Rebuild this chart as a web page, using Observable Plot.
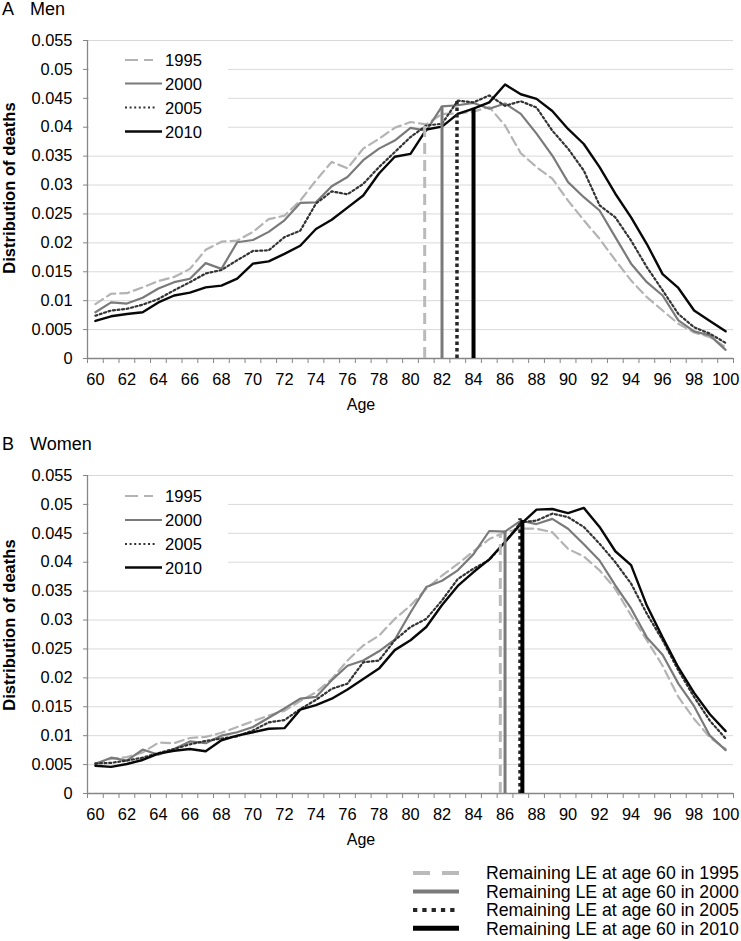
<!DOCTYPE html>
<html><head><meta charset="utf-8">
<script src="https://cdn.jsdelivr.net/npm/d3@7"></script>
<script src="https://cdn.jsdelivr.net/npm/@observablehq/plot@0.6"></script>
<style>
body{margin:0;background:#fff;font-family:"Liberation Sans",Arial,sans-serif;}
#root{position:relative;width:741px;height:941px;overflow:hidden;background:#fff;}
#root > svg, #root > figure{position:absolute;margin:0;}
</style></head>
<body><div id="root"></div>
<script>
const ages = [60,61,62,63,64,65,66,67,68,69,70,71,72,73,74,75,76,77,78,79,80,81,82,83,84,85,86,87,88,89,90,91,92,93,94,95,96,97,98,99,100];
const years = [1995, 2000, 2005, 2010];
const yTicks = [0,0.005,0.01,0.015,0.02,0.025,0.03,0.035,0.04,0.045,0.05,0.055];
const xLabels = [60,62,64,66,68,70,72,74,76,78,80,82,84,86,88,90,92,94,96,98,100];

// Men
const men1995 = [0.0094,0.0112,0.0113,0.0123,0.0134,0.0141,0.0155,0.0188,0.0202,0.0204,0.0219,0.0241,0.0247,0.0273,0.0308,0.0340,0.0329,0.0363,0.0380,0.0399,0.0409,0.0405,0.0423,0.0424,0.0427,0.0435,0.0403,0.0355,0.0331,0.0311,0.0273,0.0239,0.0207,0.0170,0.0135,0.0106,0.0083,0.0060,0.0045,0.0037,0.0020];
const men2000 = [0.0080,0.0097,0.0095,0.0105,0.0121,0.0132,0.0138,0.0165,0.0155,0.0201,0.0205,0.0219,0.0239,0.0269,0.0270,0.0298,0.0314,0.0343,0.0363,0.0377,0.0399,0.0394,0.0436,0.0438,0.0442,0.0432,0.0441,0.0423,0.0389,0.0351,0.0305,0.0279,0.0256,0.0210,0.0164,0.0132,0.0109,0.0066,0.0047,0.0040,0.0015];
const men2005 = [0.0074,0.0083,0.0086,0.0093,0.0103,0.0118,0.0132,0.0147,0.0153,0.0170,0.0186,0.0187,0.0210,0.0221,0.0268,0.0289,0.0284,0.0302,0.0331,0.0357,0.0383,0.0403,0.0406,0.0446,0.0443,0.0455,0.0437,0.0445,0.0434,0.0394,0.0363,0.0325,0.0265,0.0244,0.0204,0.0158,0.0118,0.0077,0.0054,0.0043,0.0027];
const men2010 = [0.0065,0.0073,0.0077,0.0080,0.0097,0.0109,0.0114,0.0123,0.0126,0.0138,0.0164,0.0168,0.0181,0.0195,0.0224,0.0240,0.0261,0.0282,0.0320,0.0349,0.0354,0.0396,0.0401,0.0423,0.0432,0.0443,0.0474,0.0457,0.0449,0.0428,0.0397,0.0371,0.0331,0.0285,0.0244,0.0198,0.0146,0.0122,0.0083,0.0065,0.0047];
const menLE = [80.9, 82, 82.95, 84];
const menLEtop = [0.0410, 0.0436, 0.0447, 0.0433];

// Women
const women1995 = [0.0052,0.0060,0.0063,0.0071,0.0088,0.0087,0.0096,0.0098,0.0105,0.0115,0.0125,0.0135,0.0143,0.0160,0.0175,0.0198,0.0230,0.0256,0.0273,0.0302,0.0325,0.0354,0.0377,0.0397,0.0419,0.0440,0.0452,0.0458,0.0458,0.0452,0.0423,0.0410,0.0386,0.0354,0.0308,0.0265,0.0221,0.0167,0.0129,0.0097,0.0077];
const women2000 = [0.0051,0.0062,0.0057,0.0076,0.0067,0.0077,0.0090,0.0087,0.0100,0.0106,0.0115,0.0131,0.0147,0.0164,0.0167,0.0196,0.0221,0.0230,0.0246,0.0266,0.0313,0.0357,0.0368,0.0386,0.0414,0.0454,0.0453,0.0472,0.0466,0.0475,0.0458,0.0431,0.0403,0.0360,0.0320,0.0270,0.0240,0.0190,0.0151,0.0100,0.0075];
const women2005 = [0.0052,0.0053,0.0057,0.0062,0.0070,0.0077,0.0085,0.0091,0.0095,0.0099,0.0109,0.0123,0.0127,0.0146,0.0162,0.0181,0.0190,0.0227,0.0230,0.0265,0.0288,0.0302,0.0334,0.0371,0.0389,0.0404,0.0435,0.0469,0.0472,0.0484,0.0478,0.0461,0.0432,0.0400,0.0363,0.0311,0.0265,0.0213,0.0167,0.0126,0.0095];
const women2010 = [0.0048,0.0046,0.0051,0.0058,0.0069,0.0074,0.0077,0.0073,0.0092,0.0100,0.0106,0.0112,0.0113,0.0145,0.0153,0.0164,0.0180,0.0198,0.0216,0.0248,0.0265,0.0288,0.0326,0.0359,0.0383,0.0405,0.0435,0.0466,0.0491,0.0492,0.0485,0.0494,0.0461,0.0419,0.0395,0.0325,0.0270,0.0218,0.0174,0.0137,0.0108];
const womenLE = [85.7, 86, 86.95, 87.1];
const womenLEtop = [0.0449, 0.0454, 0.0475, 0.0472];

const legendLabels = ["1995","2000","2005","2010"];
const bottomLegendLabels = ["Remaining LE at age 60 in 1995","Remaining LE at age 60 in 2000","Remaining LE at age 60 in 2005","Remaining LE at age 60 in 2010"];

const curveStyle = {
  1995: {stroke:"#b3b3b3", strokeWidth:2.2, strokeDasharray:"9,5"},
  2000: {stroke:"#7a7a7a", strokeWidth:2.2},
  2005: {stroke:"#333333", strokeWidth:2.2, strokeDasharray:"2,2.6"},
  2010: {stroke:"#080808", strokeWidth:2.4}
};
const ruleStyle = {
  1995: {stroke:"#bababa", strokeWidth:3, strokeDasharray:"11,6"},
  2000: {stroke:"#7a7a7a", strokeWidth:3},
  2005: {stroke:"#262626", strokeWidth:3.5, strokeDasharray:"3.5,3"},
  2010: {stroke:"#000000", strokeWidth:4}
};

const FONT = "'Liberation Sans', Arial, sans-serif";
const root = document.getElementById("root");

function panel(seriesArrays, le, leTop, top, height, marginBottom) {
  const rows = [];
  seriesArrays.forEach((arr, k) => arr.forEach((v, i) => rows.push({age: ages[i], value: v, year: years[k]})));
  const leRows = le.map((a, k) => ({age: a, top: leTop[k], year: years[k]}));
  const boundaries = ages.map(a => a - 0.5).concat([ages[ages.length - 1] + 0.5]);
  const marks = [
    Plot.gridY(yTicks, {stroke: "#d9d9d9", strokeOpacity: 1, strokeWidth: 1}),
    Plot.axisY(yTicks, {tickSize: 4, tickPadding: 11, stroke: "#868686", fill: "#000", label: null,
      tickFormat: v => v === 0 ? "0" : String(+v.toFixed(3))}),
    Plot.axisX(boundaries, {tickSize: 5, stroke: "#868686", label: null, tickFormat: () => ""}),
    Plot.axisX(xLabels, {tickSize: 0, tickPadding: 15, fill: "#000", label: null}),
    Plot.ruleX([boundaries[0]], {stroke: "#868686", strokeWidth: 1.3}),
    Plot.ruleY([0], {stroke: "#868686", strokeWidth: 1.3})
  ];
  years.forEach(y => marks.push(Plot.line(rows.filter(r => r.year === y), {x: "age", y: "value", ...curveStyle[y]})));
  years.forEach(y => marks.push(Plot.ruleX(leRows.filter(r => r.year === y), {x: "age", y1: 0, y2: "top", ...ruleStyle[y]})));
  const svg = Plot.plot({
    width: 741, height, marginTop: 20, marginLeft: 87, marginRight: 8, marginBottom,
    x: {domain: [boundaries[0], boundaries[boundaries.length - 1]]},
    y: {domain: [0, 0.055]},
    style: {fontFamily: FONT, fontSize: "16.4px", color: "#000", background: "transparent"},
    marks
  });
  svg.style.top = top + "px";
  svg.style.left = "0px";
  root.appendChild(svg);
}

panel([men1995, men2000, men2005, men2010], menLE, menLEtop, 20, 400, 62);
panel([women1995, women2000, women2005, women2010], womenLE, womenLEtop, 455, 405, 67);

// Overlay: titles, axis titles, legends
const ov = d3.create("svg").attr("width", 741).attr("height", 941)
  .style("top", "0px").style("left", "0px").style("pointer-events", "none")
  .style("font-family", FONT);

function txt(x, y, s, opts = {}) {
  const t = ov.append("text").attr("x", x).attr("y", y).text(s)
    .attr("font-size", opts.size || 16).attr("fill", "#000");
  if (opts.anchor) t.attr("text-anchor", opts.anchor);
  if (opts.weight) t.attr("font-weight", opts.weight);
  if (opts.rotate) t.attr("transform", `rotate(-90 ${x} ${y})`);
  return t;
}

txt(2, 15, "A", {size: 18}); txt(30, 15, "Men", {size: 18});
txt(2, 450, "B", {size: 18}); txt(30, 450, "Women", {size: 18});
txt(15, 188, "Distribution of deaths", {size: 16.6, weight: "bold", anchor: "middle", rotate: true});
txt(15, 625, "Distribution of deaths", {size: 16.6, weight: "bold", anchor: "middle", rotate: true});
txt(361, 410, "Age", {size: 16, anchor: "middle"});
txt(361, 845, "Age", {size: 16, anchor: "middle"});

const legLen = {1995: 153, 2000: 162, 2005: 157, 2010: 162};
const legDash = {1995: "13,6", 2000: null, 2005: "2,2.6", 2010: null};
function inLegend(rowsY) {
  ov.append("rect").attr("x", 89).attr("y", rowsY[0] - 16).attr("width", 139).attr("height", rowsY[3] - rowsY[0] + 30).attr("fill", "#fff");
  years.forEach((y, k) => {
    const l = ov.append("line").attr("x1", 125).attr("x2", legLen[y]).attr("y1", rowsY[k]).attr("y2", rowsY[k])
      .attr("stroke", curveStyle[y].stroke).attr("stroke-width", curveStyle[y].strokeWidth);
    if (legDash[y]) l.attr("stroke-dasharray", legDash[y]);
    txt(165, rowsY[k] + 6, legendLabels[k], {size: 16.6});
  });
}
inLegend([60, 83.5, 107.5, 131.5]);
inLegend([496, 520, 544, 567.5]);

const bRows = [873, 891.5, 910, 928.3];
const bDash = {1995: "17,12", 2000: null, 2005: "4.3,5", 2010: null};
const bWidth = {1995: 4, 2000: 4, 2005: 4, 2010: 5};
years.forEach((y, k) => {
  const l = ov.append("line").attr("x1", 413).attr("x2", 459).attr("y1", bRows[k]).attr("y2", bRows[k])
    .attr("stroke", ruleStyle[y].stroke).attr("stroke-width", bWidth[y]);
  if (bDash[y]) l.attr("stroke-dasharray", bDash[y]);
  txt(486, bRows[k] + 6.4, bottomLegendLabels[k], {size: 17.7});
});

root.appendChild(ov.node());
</script>
</body></html>
